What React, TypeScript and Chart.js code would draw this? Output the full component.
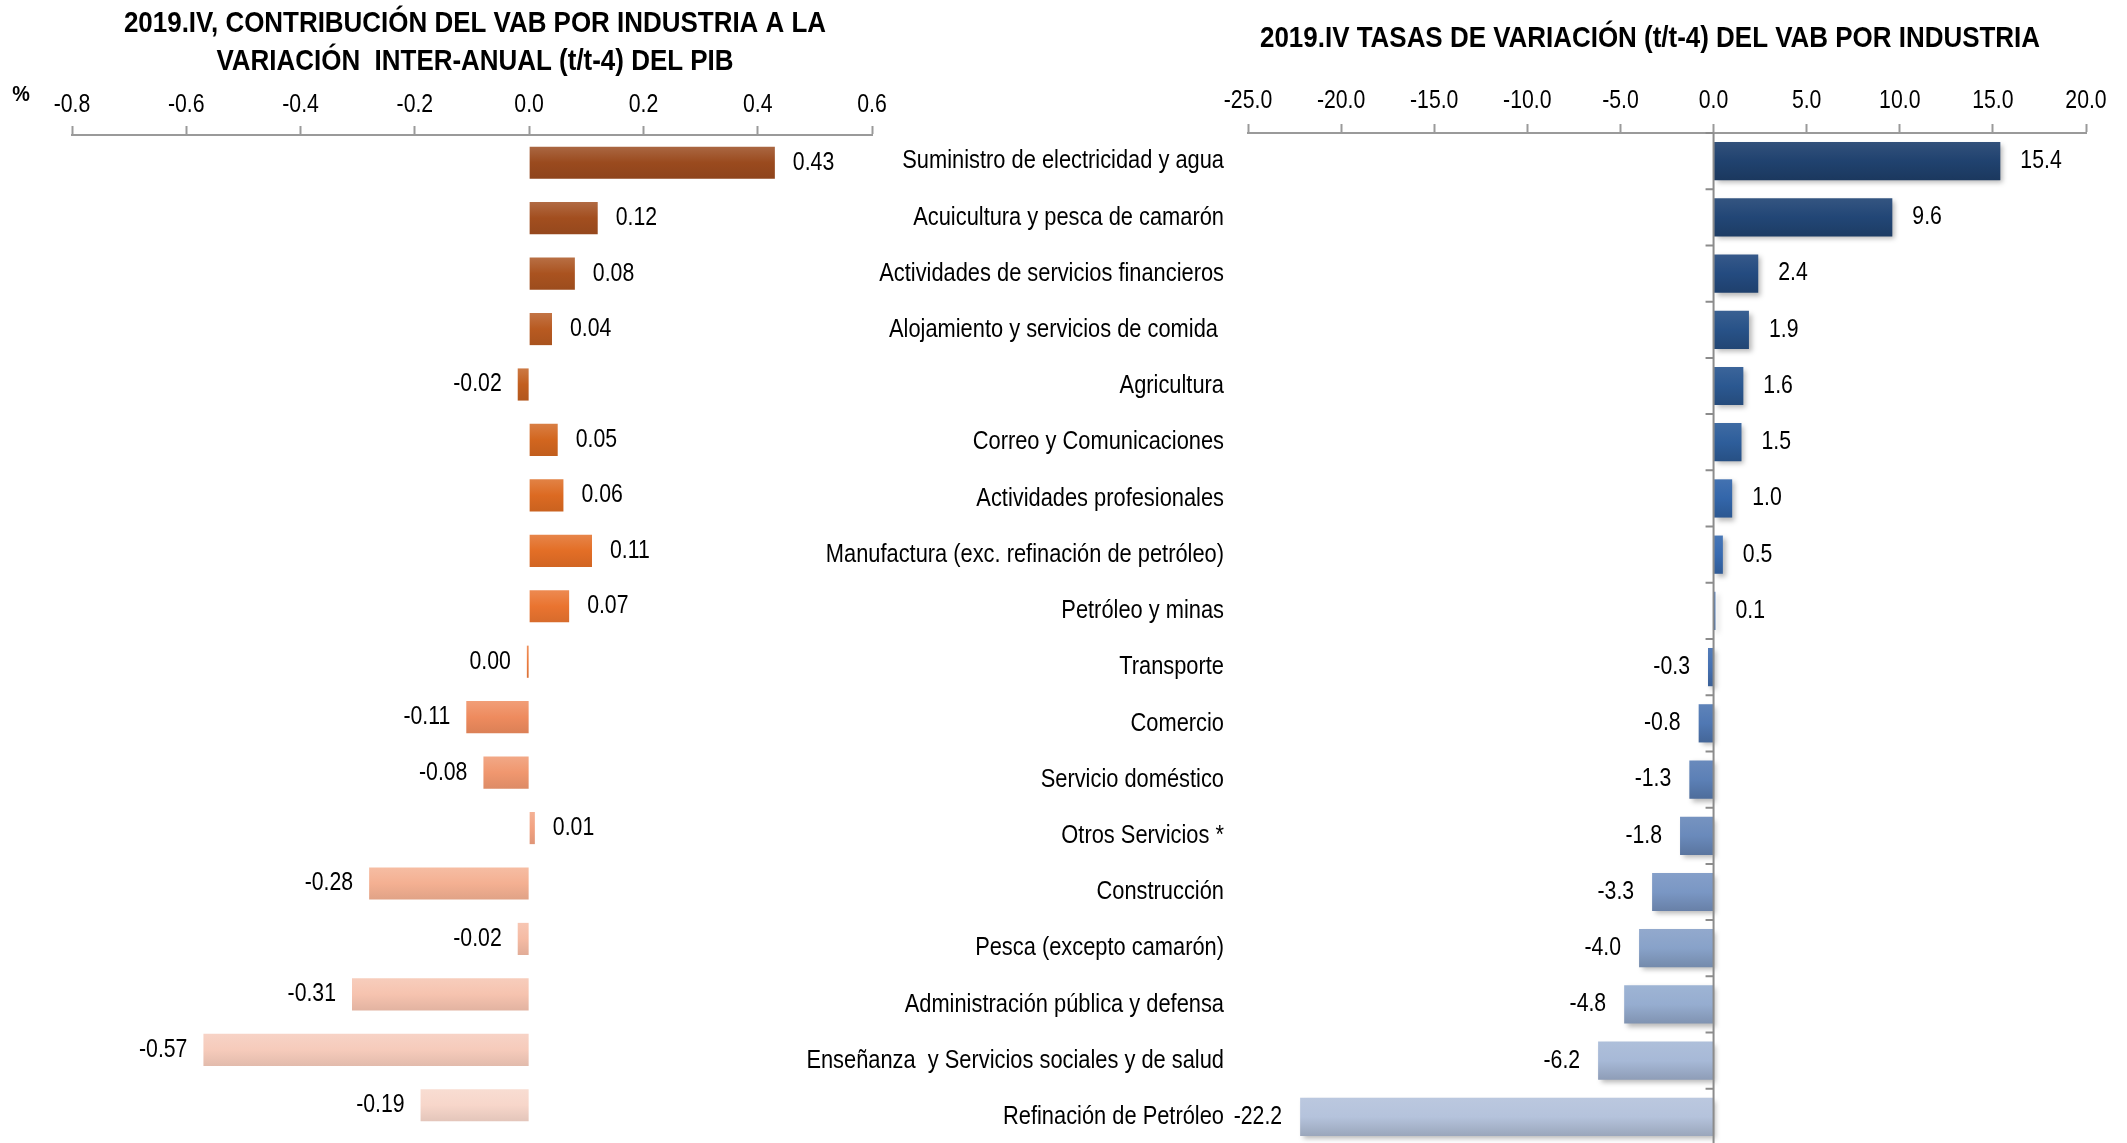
import React, { useEffect, useRef } from 'react';
import { Chart, registerables } from 'chart.js';

Chart.register(...registerables);

// ---------------- DATA ----------------
const categories = [
  'Suministro de electricidad y agua',
  'Acuicultura y pesca de camarón',
  'Actividades de servicios financieros',
  'Alojamiento y servicios de comida ',
  'Agricultura',
  'Correo y Comunicaciones',
  'Actividades profesionales',
  'Manufactura (exc. refinación de petróleo)',
  'Petróleo y minas',
  'Transporte',
  'Comercio',
  'Servicio doméstico',
  'Otros Servicios *',
  'Construcción',
  'Pesca (excepto camarón)',
  'Administración pública y defensa',
  'Enseñanza  y Servicios sociales y de salud',
  'Refinación de Petróleo',
];

// Contribution to GDP y/y variation (percentage points)
const contribution = [
  0.43, 0.12, 0.08, 0.04, -0.02, 0.05, 0.06, 0.11, 0.07, -0.004, -0.11, -0.08, 0.01, -0.28, -0.02, -0.31,
  -0.57, -0.19,
];

// Growth rates (t/t-4) of GVA by industry (%)
const growthRate = [
  15.4, 9.6, 2.4, 1.9, 1.6, 1.5, 1.0, 0.5, 0.1, -0.3, -0.8, -1.3, -1.8, -3.3, -4.0, -4.8, -6.2, -22.2,
];

const contributionTicks = [-0.8, -0.6, -0.4, -0.2, 0.0, 0.2, 0.4, 0.6];
const growthTicks = [-25, -20, -15, -10, -5, 0, 5, 10, 15, 20];

const leftTitle = ['2019.IV, CONTRIBUCIÓN DEL VAB POR INDUSTRIA A LA', 'VARIACIÓN  INTER-ANUAL (t/t-4) DEL PIB'];
const rightTitle = ['2019.IV TASAS DE VARIACIÓN (t/t-4) DEL VAB POR INDUSTRIA'];
const unitLabel = '%';

// ---------------- STYLE ----------------
const contributionColors = [
  '#9a4a1e', '#a24e1f', '#aa5320', '#b85a21', '#c25f20', '#d2661f', '#dc6a22', '#e36e26', '#ea7430',
  '#ec7c3e', '#ee8b5e', '#f0976f', '#f2a281', '#f4b092', '#f5bba4', '#f6c3af', '#f6cbbb', '#f7d6ca',
];
const growthColors = [
  '#20426f', '#224676', '#244b80', '#285288', '#2b5891', '#2e5e9b', '#3366aa', '#386bb1', '#3b6cb2',
  '#4571b2', '#5078b3', '#5c80b6', '#6a8abb', '#7a97c4', '#88a2c9', '#96add0', '#a7b9d7', '#b5c3dc',
];

const FONT = "'Liberation Sans', Arial, sans-serif";
const NARROW = 0.85; // horizontal squeeze to imitate Arial Narrow
const AXIS_GRAY = '#9a9a9a';

function hexToRgb(h: string) {
  const n = parseInt(h.slice(1), 16);
  return [(n >> 16) & 255, (n >> 8) & 255, n & 255];
}
function mix(h: string, target: number[], t: number) {
  const c = hexToRgb(h);
  const r = c.map((v, i) => Math.round(v + (target[i] - v) * t));
  return `rgb(${r[0]},${r[1]},${r[2]})`;
}

function narrowText(
  c: CanvasRenderingContext2D,
  text: string,
  x: number,
  y: number,
  align: CanvasTextAlign,
  size: number,
  bold = false,
  sx = NARROW,
) {
  c.save();
  c.font = `${bold ? 'bold ' : ''}${size}px ${FONT}`;
  c.fillStyle = '#000';
  c.textAlign = align;
  c.textBaseline = 'middle';
  c.translate(x, y);
  c.scale(sx, 1);
  c.fillText(text, 0, 0);
  c.restore();
}

function gradientFill(colors: string[], barPct: number, topLight: number, bottomDark: number) {
  return (ctx: any) => {
    const base = colors[ctx.dataIndex ?? 0] || colors[0];
    const chart = ctx.chart;
    const ys = chart.scales && chart.scales.y;
    if (ctx.dataIndex == null || !ys || !chart.chartArea) return base;
    const yc = ys.getPixelForValue(ctx.dataIndex);
    const step = Math.abs(ys.getPixelForValue(1) - ys.getPixelForValue(0));
    const half = (step * barPct) / 2;
    if (!isFinite(yc) || !isFinite(half) || half <= 0) return base;
    const g = chart.ctx.createLinearGradient(0, yc - half, 0, yc + half);
    g.addColorStop(0, mix(base, [255, 255, 255], topLight));
    g.addColorStop(0.5, base);
    g.addColorStop(1, mix(base, [0, 0, 0], bottomDark));
    return g;
  };
}

// Value labels next to the bar ends
function valueLabelPlugin(id: string, fmt: (v: number) => string, posGap: number, negGap: number) {
  return {
    id,
    afterDatasetsDraw(chart: any) {
      const meta = chart.getDatasetMeta(0);
      const data = chart.data.datasets[0].data as number[];
      meta.data.forEach((el: any, i: number) => {
        const v = data[i];
        if (v >= 0) narrowText(chart.ctx, fmt(v), el.x + posGap, el.y, 'left', 25);
        else narrowText(chart.ctx, fmt(v), el.x - negGap, el.y, 'right', 25);
      });
    },
  };
}

// Tick labels of the top value axis, titles, and (optionally) category labels
function textPlugin(id: string, opts: {
  ticks: number[];
  tickFmt: (v: number) => string;
  tickY: number;
  title: string[];
  titleX: number;
  titleY: number;
  titleLine: number;
  categoryGap?: number;
  extra?: (c: CanvasRenderingContext2D) => void;
}) {
  return {
    id,
    afterDraw(chart: any) {
      const c = chart.ctx;
      const xs = chart.scales.x;
      opts.ticks.forEach((t) => {
        narrowText(c, opts.tickFmt(t), xs.getPixelForValue(t), opts.tickY, 'center', 25);
      });
      opts.title.forEach((line, i) => {
        narrowText(c, line, opts.titleX, opts.titleY + i * opts.titleLine, 'center', 30, true, 0.865);
      });
      if (opts.categoryGap != null) {
        const ys = chart.scales.y;
        const labels = chart.data.labels as string[];
        labels.forEach((lab, i) => {
          narrowText(c, lab, chart.chartArea.left - opts.categoryGap!, ys.getPixelForValue(i), 'right', 26, false, 0.84);
        });
      }
      if (opts.extra) opts.extra(c);
    },
  };
}

function xAxis(min: number, max: number, ticks: number[], height: number) {
  return {
    type: 'linear',
    position: 'top',
    min,
    max,
    afterBuildTicks: (s: any) => {
      s.ticks = ticks.map((v) => ({ value: v }));
    },
    afterFit: (s: any) => {
      s.height = height;
    },
    ticks: { display: false },
    grid: {
      drawOnChartArea: false,
      drawTicks: true,
      tickLength: 9,
      tickColor: AXIS_GRAY,
      tickWidth: 2,
    },
    border: { display: true, color: AXIS_GRAY, width: 2 },
  };
}

export default function App() {
  const leftRef = useRef<HTMLCanvasElement>(null);
  const rightRef = useRef<HTMLCanvasElement>(null);

  useEffect(() => {
    const LEFT_BAR = 0.58;
    const RIGHT_BAR = 0.68;

    const left = new Chart(leftRef.current as HTMLCanvasElement, {
      type: 'bar',
      data: {
        labels: categories,
        datasets: [
          {
            data: contribution,
            backgroundColor: gradientFill(contributionColors, LEFT_BAR, 0.16, 0.08) as any,
            borderWidth: 0,
            barPercentage: LEFT_BAR,
            categoryPercentage: 1,
          },
        ],
      },
      options: {
        indexAxis: 'y',
        responsive: false,
        maintainAspectRatio: false,
        animation: false,
        layout: { padding: { left: 72, right: 28, top: 0, bottom: 10 } },
        plugins: {
          legend: { display: false },
          tooltip: { enabled: false },
          title: { display: false },
        },
        scales: {
          x: xAxis(-0.8, 0.6, contributionTicks, 135) as any,
          y: { type: 'category', display: false, grid: { display: false } },
        },
      },
      plugins: [
        valueLabelPlugin('leftValues', (v) => (Math.abs(v) < 0.005 ? '0.00' : v.toFixed(2)), 18, 16),
        textPlugin('leftText', {
          ticks: contributionTicks,
          tickFmt: (v) => v.toFixed(1),
          tickY: 105,
          title: leftTitle,
          titleX: 475,
          titleY: 24,
          titleLine: 38,
          extra: (c) => narrowText(c, unitLabel, 21, 95, 'center', 22, true, 0.9),
        }),
      ],
    });

    const zeroLinePlugin = {
      id: 'zeroLine',
      afterDatasetsDraw(chart: any) {
        const xs = chart.scales.x;
        const ys = chart.scales.y;
        const area = chart.chartArea;
        const x0 = xs.getPixelForValue(0);
        const c = chart.ctx;
        c.save();
        c.strokeStyle = '#8c8c8c';
        c.lineWidth = 2;
        c.beginPath();
        c.moveTo(x0, area.top);
        c.lineTo(x0, area.bottom);
        const n = chart.data.labels.length;
        const step = ys.getPixelForValue(1) - ys.getPixelForValue(0);
        for (let i = 0; i <= n; i++) {
          const y = ys.getPixelForValue(0) - step / 2 + i * step;
          c.moveTo(x0 - 8, y);
          c.lineTo(x0, y);
        }
        c.stroke();
        c.restore();
      },
    };

    const shadowPlugin = {
      id: 'barShadow',
      beforeDatasetDraw(chart: any) {
        const c = chart.ctx;
        c.save();
        c.shadowColor = 'rgba(0,0,0,0.28)';
        c.shadowBlur = 5;
        c.shadowOffsetX = 3;
        c.shadowOffsetY = 3;
      },
      afterDatasetDraw(chart: any) {
        chart.ctx.restore();
      },
    };

    const right = new Chart(rightRef.current as HTMLCanvasElement, {
      type: 'bar',
      data: {
        labels: categories,
        datasets: [
          {
            data: growthRate,
            backgroundColor: gradientFill(growthColors, RIGHT_BAR, 0.08, 0.15) as any,
            borderWidth: 0,
            barPercentage: RIGHT_BAR,
            categoryPercentage: 1,
          },
        ],
      },
      options: {
        indexAxis: 'y',
        responsive: false,
        maintainAspectRatio: false,
        animation: false,
        layout: { padding: { left: 0, right: 41, top: 0, bottom: 5 } },
        plugins: {
          legend: { display: false },
          tooltip: { enabled: false },
          title: { display: false },
        },
        scales: {
          x: xAxis(-25, 20, growthTicks, 133) as any,
          y: {
            type: 'category',
            position: 'left',
            afterFit: (s: any) => {
              s.width = 488;
            },
            ticks: { display: false },
            grid: { display: false, drawTicks: false },
            border: { display: false },
          },
        },
      },
      plugins: [
        shadowPlugin,
        zeroLinePlugin,
        valueLabelPlugin('rightValues', (v) => v.toFixed(1), 20, 18),
        textPlugin('rightText', {
          ticks: growthTicks,
          tickFmt: (v) => v.toFixed(1),
          tickY: 101,
          title: rightTitle,
          titleX: 1650 - 760,
          titleY: 39,
          titleLine: 38,
          categoryGap: 24,
        }),
      ],
    });

    return () => {
      left.destroy();
      right.destroy();
    };
  }, []);

  return (
    <div
      style={{
        position: 'fixed',
        left: 0,
        top: 0,
        width: 2127,
        height: 1143,
        overflow: 'hidden',
        background: '#ffffff',
      }}
    >
      <canvas ref={leftRef} width={900} height={1143} style={{ position: 'absolute', left: 0, top: 0 }} />
      <canvas ref={rightRef} width={1367} height={1150} style={{ position: 'absolute', left: 760, top: 0 }} />
    </div>
  );
}
